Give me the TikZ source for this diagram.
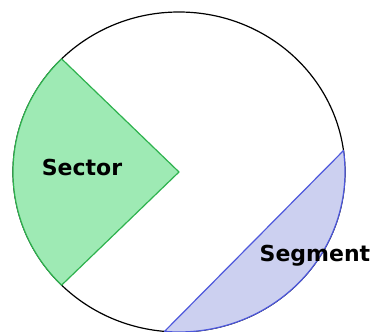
\documentclass[tikz,border=0pt]{standalone}
\usepackage{fontspec}
\setmainfont{DejaVu Sans}
\definecolor{sectorfill}{RGB}{158,234,180}
\definecolor{sectorline}{RGB}{46,178,78}
\definecolor{segfill}{RGB}{204,208,240}
\definecolor{segline}{RGB}{78,88,220}
\tikzset{
  rim/.style={draw=black, line width=1.2pt, fill=white},
  sectorstyle/.style={draw=sectorline, fill=sectorfill, line width=1.2pt, line join=round},
  segstyle/.style={draw=segline, fill=segfill, line width=1.2pt, line join=round},
  lbl/.style={font=\fontsize{22}{25}\selectfont\bfseries, text=black, inner sep=0pt, anchor=base}
}
\begin{document}
\begin{tikzpicture}[x=1pt,y=1pt]
\useasboundingbox (0,0) rectangle (376,332);
\coordinate (c) at (179,160);
\draw[rim] (c) ellipse [x radius=166, y radius=160];
\draw[sectorstyle] (c) -- ([shift={(135:166 and 160)}]c) arc [start angle=135, end angle=225, x radius=166, y radius=160] -- cycle;
\draw[segstyle] ([shift={(7.7:166 and 160)}]c) arc [start angle=7.7, end angle=-95, x radius=166, y radius=160] -- cycle;
\node[lbl] (sector) at (82,156) {Sector};
\node[lbl] (segment) at (315,70.3) {Segment};
\end{tikzpicture}
\end{document}
